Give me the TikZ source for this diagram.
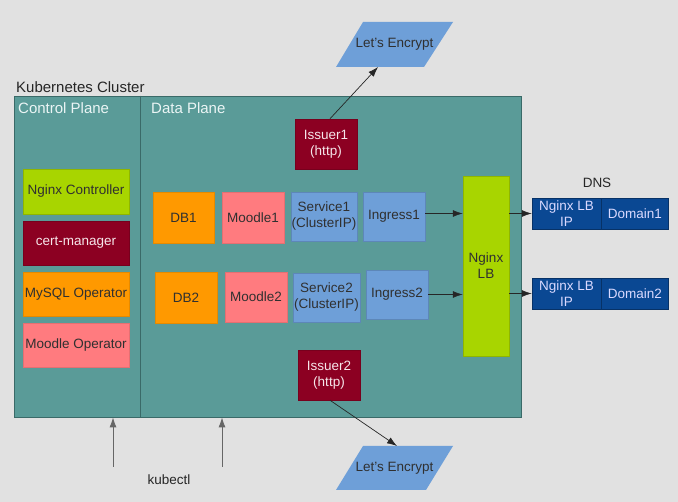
\documentclass[tikz,border=0pt]{standalone}
\usepackage{fontspec}
\setmainfont{Liberation Sans}
\usetikzlibrary{arrows.meta,calc}
\definecolor{bgcol}{HTML}{E1E1E1}
\definecolor{tealcol}{HTML}{5A9B98}
\definecolor{tealline}{HTML}{3A6A68}
\definecolor{greencol}{HTML}{A8D500}
\definecolor{redcol}{HTML}{8C0022}
\definecolor{orangecol}{HTML}{FF9900}
\definecolor{pinkcol}{HTML}{FF7B7F}
\definecolor{bluecol}{HTML}{6E9FD8}
\definecolor{dnscol}{HTML}{0A4893}
\definecolor{darktext}{HTML}{303030}
\definecolor{lighttext}{HTML}{F6E6EA}
\begin{document}
\begin{tikzpicture}[x=1pt,y=-1pt,
  every node/.style={font=\fontsize{13.5}{16}\selectfont},
  box/.style={rectangle,inner sep=0pt,align=center,text=darktext,line width=0.5pt},
  greenbox/.style={box,fill=greencol,draw=greencol!85!black},
  redbox/.style={box,fill=redcol,draw=redcol!85!black,text=lighttext},
  orangebox/.style={box,fill=orangecol,draw=orangecol!90!black},
  pinkbox/.style={box,fill=pinkcol,draw=pinkcol!90!black},
  bluebox/.style={box,fill=bluecol,draw=bluecol!85!black},
  dnsbox/.style={box,fill=dnscol,draw=dnscol!70!black,text=white!85!blue},
  lbl/.style={inner sep=0pt},
  arr/.style={-{Latex[length=10pt,width=7pt]},line width=0.7pt,draw=black!85},
  karr/.style={-{Latex[length=10pt,width=7pt]},line width=0.9pt,draw=black!60}
]
\useasboundingbox (0,0) rectangle (678,502);
\fill[bgcol] (0,0) rectangle (678,502);

% cluster
\node[rectangle,fill=tealcol,draw=tealline,line width=0.8pt,minimum width=507pt,minimum height=321pt,inner sep=0pt] (cluster) at (267.5,256.5) {};
\draw[tealline,line width=0.8pt] ($(cluster.north west)+(127pt,0)$) -- ($(cluster.south west)+(127pt,0)$);

\node[lbl,anchor=west,text=black!85,font=\fontsize{15}{17}\selectfont] (klabel) at (16,87) {Kubernetes Cluster};
\node[lbl,anchor=west,text=white!92!teal,font=\fontsize{15}{17}\selectfont] (cplabel) at (18,108) {Control Plane};
\node[lbl,anchor=west,text=white!92!teal,font=\fontsize{15}{17}\selectfont] (dplabel) at (151,108) {Data Plane};

% control plane
\node[greenbox,minimum width=106pt,minimum height=45pt] (nginxc) at (76,191.5) {Nginx Controller};
\node[redbox,minimum width=106pt,minimum height=44pt] (certm) at (76,243) {cert-manager};
\node[orangebox,minimum width=106pt,minimum height=44pt] (mysqlop) at (76,294) {MySQL Operator};
\node[pinkbox,minimum width=106pt,minimum height=44pt] (moodleop) at (76,345) {Moodle Operator};

% data plane row 1
\node[orangebox,minimum width=61pt,minimum height=51pt] (db1) at (183.5,217.5) {DB1};
\node[pinkbox,minimum width=62pt,minimum height=51pt] (moodle1) at (253,217.5) {Moodle1};
\node[bluebox,minimum width=66pt,minimum height=49pt] (service1) at (324,216.5) {Service1\\(ClusterIP)};
\node[bluebox,minimum width=62pt,minimum height=49pt] (ingress1) at (394,216.5) {Ingress1};

% data plane row 2
\node[orangebox,minimum width=62pt,minimum height=51pt] (db2) at (186,297.5) {DB2};
\node[pinkbox,minimum width=62pt,minimum height=50pt] (moodle2) at (256,297) {Moodle2};
\node[bluebox,minimum width=67pt,minimum height=49pt] (service2) at (326.5,297.5) {Service2\\(ClusterIP)};
\node[bluebox,minimum width=62pt,minimum height=49pt] (ingress2) at (397,294.5) {Ingress2};

% Nginx LB
\node[greenbox,minimum width=46pt,minimum height=180pt] (nginxlb) at (486,266) {Nginx\\LB};

% issuers
\node[redbox,minimum width=62pt,minimum height=50pt] (issuer1) at (326,144) {Issuer1\\(http)};
\node[redbox,minimum width=62pt,minimum height=50pt] (issuer2) at (329,375) {Issuer2\\(http)};

% Let's Encrypt parallelograms
\fill[bluecol] (363,22) -- (453,22) -- (424,67) -- (336,67) -- cycle;
\node[lbl,text=darktext] (le1) at (394.5,44.5) {Let's Encrypt};
\coordinate (le1b) at (378,67);
\fill[bluecol] (363,446) -- (453,446) -- (426,490) -- (336,490) -- cycle;
\node[lbl,text=darktext] (le2) at (394.5,468) {Let's Encrypt};
\coordinate (le2t) at (397,446);

% DNS
\node[lbl,text=black!85] (dnslabel) at (597,183) {DNS};
\node[dnsbox,minimum width=69pt,minimum height=31pt] (ip1) at (566.5,213.5) {Nginx LB\\IP};
\node[dnsbox,minimum width=67pt,minimum height=31pt,anchor=west] (dom1) at (ip1.east) {Domain1};
\node[dnsbox,minimum width=69pt,minimum height=31pt] (ip2) at (566.5,293.5) {Nginx LB\\IP};
\node[dnsbox,minimum width=67pt,minimum height=31pt,anchor=west] (dom2) at (ip2.east) {Domain2};

% arrows
\draw[arr] ([xshift=4pt]issuer1.north) -- (le1b);
\draw[arr] ([xshift=1pt]issuer2.south) -- (le2t);
\draw[arr] ([yshift=3pt]ingress1.east) -- ([yshift=3pt]ingress1.east -| nginxlb.west);
\draw[arr] (ingress2.east) -- (ingress2.east -| nginxlb.west);
\draw[arr] (nginxlb.east |- ip1.west) -- (ip1.west);
\draw[arr] (nginxlb.east |- ip2.west) -- (ip2.west);

% kubectl
\node[lbl,text=black!85] (kubectl) at (169,480) {kubectl};
\coordinate (k1) at (113,467);
\coordinate (k2) at (222,467);
\draw[karr] (k1) -- (k1 |- cluster.south);
\draw[karr] (k2) -- (k2 |- cluster.south);
\end{tikzpicture}
\end{document}
